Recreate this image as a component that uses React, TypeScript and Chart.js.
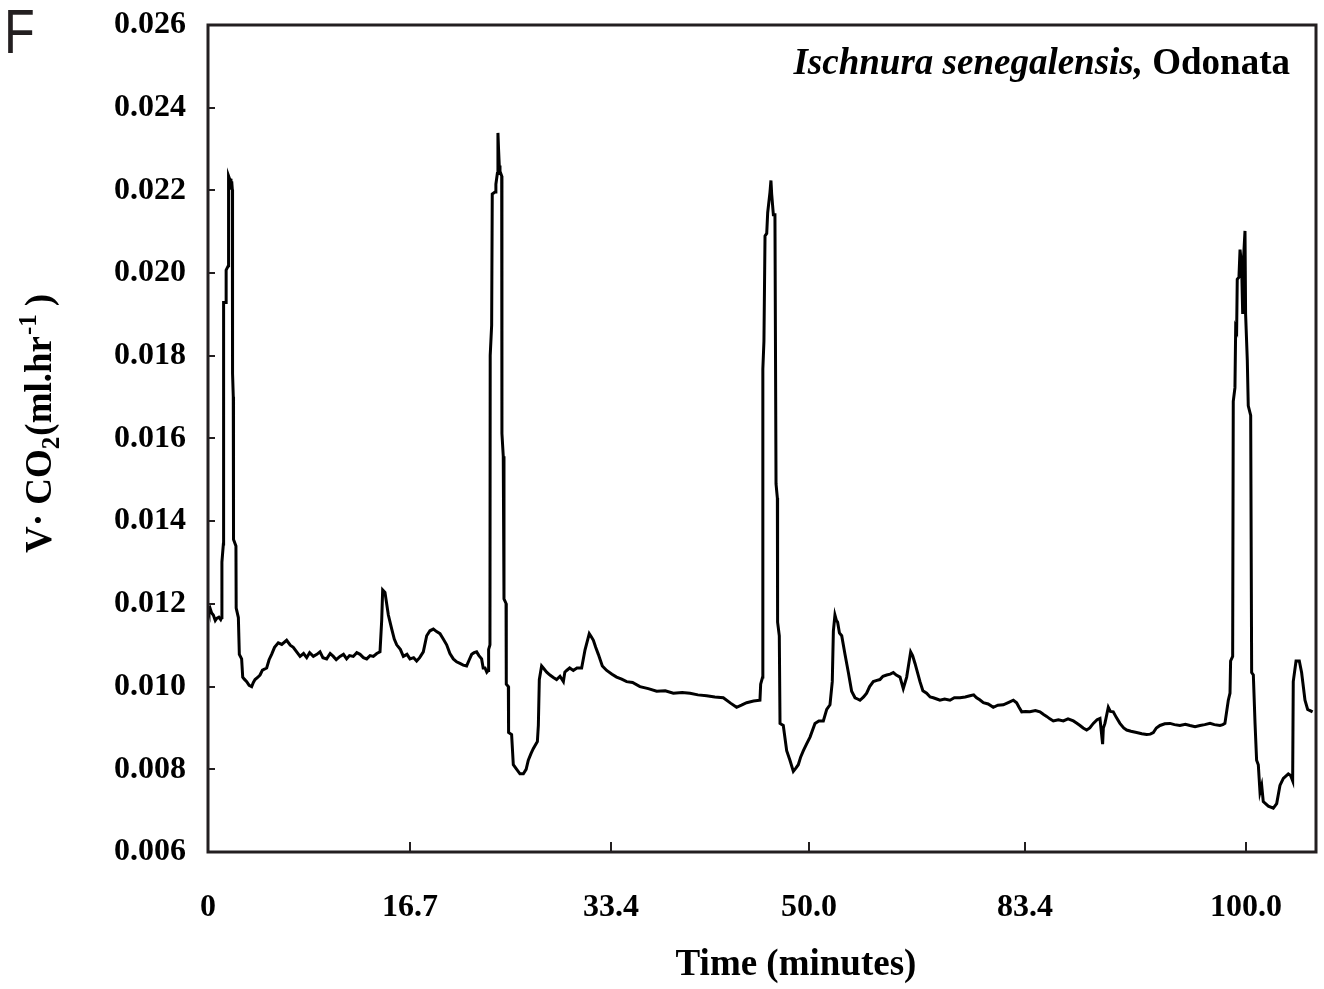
import React, { useEffect, useRef } from "react";
import { Chart, registerables } from "chart.js";

Chart.register(...registerables);

// Time (plot units, linear along the axis) and VCO2 (ml/hr)
const timeMin: number[] = [
  0, 0.08, 0.165, 0.3, 0.44, 0.6, 0.72, 0.9, 1.05, 1.13,
  1.15, 1.27, 1.29, 1.49, 1.5, 1.68, 1.7, 1.76, 1.8, 1.85, 1.9, 1.96, 2.01, 2.03, 2.09, 2.11, 2.31, 2.33, 2.51, 2.59, 2.78, 2.87,
  3.0, 3.2, 3.4, 3.61, 3.75, 3.89, 4.1, 4.3, 4.5, 4.85, 5.05, 5.26, 5.5, 5.81, 6.1, 6.5, 6.8, 7.05, 7.3, 7.61, 7.9, 8.16, 8.4, 8.71,
  9.0, 9.26, 9.5, 9.81, 10.1, 10.36, 10.6, 10.91, 11.2, 11.46, 11.7, 12.01, 12.3, 12.57, 12.85, 13.12, 13.4, 13.67, 13.95, 14.22,
  14.36, 14.44, 14.63, 14.91, 15.18, 15.4, 15.6, 15.9, 16.15, 16.45, 16.7, 17.0, 17.25, 17.5, 17.8, 18.08, 18.35, 18.63, 18.9,
  19.18, 19.45, 19.73, 20.0, 20.28, 20.55, 20.83, 21.1, 21.38, 21.6, 21.8, 22.0, 22.21, 22.4, 22.62, 22.75, 22.9, 23.05, 23.17,
  23.2, 23.31, 23.33, 23.45, 23.5, 23.73, 23.8, 23.92, 23.97, 24.02, 24.08, 24.14, 24.28, 24.3, 24.41, 24.47, 24.64, 24.66, 24.83,
  24.85, 25.1, 25.24, 25.52, 25.79, 26.07, 26.3, 26.48, 26.7, 26.89, 27.23, 27.31, 27.39,
  27.58, 27.72, 28.0, 28.27, 28.55, 28.82, 29.1, 29.38, 29.5, 29.65, 29.9, 30.2, 30.5, 30.89, 31.17, 31.52, 31.7, 31.86, 32.05,
  32.27, 32.6, 32.96, 33.4, 33.78, 34.2, 34.61, 35.1, 35.71, 36.4, 37.09, 37.8, 38.47, 39.2, 39.85, 40.5, 41.22, 41.9, 42.6, 43.2,
  43.7, 44.1, 44.53, 45.1, 45.63, 45.69, 45.85, 45.87, 45.96, 46.05, 46.19, 46.27, 46.46, 46.54, 46.6, 46.74, 46.87, 46.96, 47.07,
  47.09, 47.23, 47.29, 47.56, 47.84, 48.11, 48.39, 48.6, 48.8, 49.0, 49.22, 49.5, 49.77, 50.18, 50.5, 50.87, 51.15, 51.42, 51.61,
  51.7, 51.83, 51.95, 52.05, 52.2, 52.39, 52.66, 52.94, 53.21, 53.49, 53.7, 53.9, 54.2, 54.45, 54.7, 55.0, 55.3, 55.55, 55.8,
  56.11, 56.4, 56.66, 56.9, 57.21, 57.48, 57.76, 58.09, 58.25, 58.45, 58.86, 59.1, 59.41, 59.7, 59.96, 60.25, 60.51,
  60.9, 61.34, 61.7, 62.17, 62.6, 62.99, 63.3, 63.54, 63.8, 64.1, 64.5, 64.92, 65.3, 65.75, 66.2, 66.58, 66.85, 67.05, 67.27,
  67.6, 67.95, 68.4, 68.78, 69.05, 69.33, 69.6, 69.88, 70.3, 70.71, 71.1, 71.54, 71.8, 72.09, 72.35, 72.64, 72.9, 73.19, 73.5,
  73.74, 73.96, 74.02, 74.15, 74.43, 74.6, 74.84, 75.1, 75.39, 75.7, 75.95, 76.3, 76.77, 77.2, 77.6, 77.9, 78.15, 78.4, 78.7,
  79.1, 79.53, 79.9, 80.35, 80.8, 81.18, 81.6, 82.01, 82.4, 82.84, 83.2, 83.66, 83.9, 84.07, 84.35, 84.49, 84.54, 84.71, 84.76,
  84.9, 84.96, 85.04, 85.09, 85.23, 85.32, 85.45, 85.54, 85.59, 85.73, 85.78, 85.92, 86.0, 86.2, 86.28, 86.42, 86.56, 86.69,
  86.83, 86.97, 87.11, 87.24, 87.66, 88.07, 88.35, 88.62, 88.9, 89.31, 89.5, 89.67, 89.72, 89.95, 90.22, 90.41, 90.69, 90.91, 91.32,
];

const vco2: number[] = [
  0.01195, 0.01185, 0.0119, 0.01178, 0.01173, 0.0116, 0.01165, 0.01168, 0.01162, 0.01167,
  0.01301, 0.01345, 0.01929, 0.01929, 0.02007, 0.02018, 0.02235, 0.0223, 0.02205, 0.02228, 0.02202, 0.02222, 0.02202, 0.01757, 0.01701, 0.01356, 0.0134, 0.0119, 0.01167, 0.01078, 0.01067, 0.01023,
  0.01018, 0.01012, 0.01003, 0.01, 0.0101, 0.01017, 0.01022, 0.01028, 0.0104, 0.01045, 0.01065, 0.01078, 0.01095, 0.01106, 0.01102, 0.01112, 0.011, 0.01095, 0.01085, 0.01073, 0.0108, 0.0107, 0.01082, 0.01073,
  0.01078, 0.01084, 0.0107, 0.01067, 0.0108, 0.01073, 0.01065, 0.01073, 0.01078, 0.01067, 0.01075, 0.01073, 0.01082, 0.01078, 0.0107, 0.01067, 0.01075, 0.01073, 0.0108, 0.01084,
  0.0116, 0.01234, 0.01228, 0.01173, 0.0114, 0.01115, 0.01101, 0.0109, 0.01073, 0.01078, 0.01067, 0.0107, 0.01062, 0.0107, 0.01084, 0.01123, 0.01135, 0.01139, 0.01133,
  0.01128, 0.01115, 0.01101, 0.0108, 0.01067, 0.0106, 0.01056, 0.01052, 0.0105, 0.01065, 0.01078, 0.01082, 0.01084, 0.01075, 0.01067, 0.01045, 0.01045, 0.01035, 0.01039,
  0.0109, 0.01101, 0.01801, 0.01874, 0.02191, 0.02196, 0.02215, 0.02241, 0.02339, 0.023, 0.0226, 0.02246, 0.02235, 0.01612, 0.01557, 0.01212, 0.01201, 0.01006, 0.01,
  0.00889, 0.00884, 0.00811, 0.008, 0.00789, 0.00789, 0.008, 0.00822, 0.00838, 0.0085, 0.00867, 0.00906, 0.01017,
  0.0105, 0.01045, 0.01035, 0.01028, 0.01022, 0.01017, 0.01025, 0.01012, 0.01035, 0.01039, 0.01045, 0.01039, 0.01045, 0.01045, 0.01089, 0.01128, 0.0112, 0.01112, 0.01095,
  0.01078, 0.0105, 0.01039, 0.0103, 0.01023, 0.01018, 0.01012, 0.0101, 0.01, 0.00995, 0.00989, 0.0099, 0.00984, 0.00986, 0.00984, 0.0098, 0.00978, 0.00975, 0.00973, 0.0096,
  0.0095, 0.00955, 0.00961, 0.00965, 0.00967, 0.01006, 0.01023, 0.01768, 0.01835, 0.0209, 0.02096, 0.02146, 0.02196, 0.02224, 0.02191, 0.02141, 0.02141, 0.0149, 0.01456,
  0.01156, 0.01123, 0.00911, 0.00906, 0.00845, 0.00822, 0.00795, 0.00803, 0.00811, 0.0083, 0.00845, 0.00862, 0.00878, 0.00911, 0.00917, 0.00917, 0.00945, 0.00956, 0.01012,
  0.01134, 0.01173, 0.0116, 0.01156, 0.0113, 0.01123, 0.01078, 0.01034, 0.00989, 0.00973, 0.0097, 0.00967, 0.00975, 0.00984, 0.01, 0.01012, 0.01015, 0.01017, 0.01025,
  0.01028, 0.0103, 0.01034, 0.01028, 0.01023, 0.00995, 0.01023, 0.01084, 0.01075, 0.01056, 0.01012, 0.0099, 0.00984, 0.00975, 0.00973, 0.0097, 0.00967,
  0.0097, 0.00967, 0.00973, 0.00973, 0.00975, 0.00978, 0.0098, 0.00973, 0.00968, 0.00961, 0.00958, 0.0095, 0.00955, 0.00956, 0.00962, 0.00967, 0.00961, 0.0095, 0.00939,
  0.0094, 0.00939, 0.00942, 0.00939, 0.00933, 0.00928, 0.00922, 0.00917, 0.0092, 0.00917, 0.00922, 0.00917, 0.00912, 0.00906, 0.009, 0.00895, 0.009, 0.00911, 0.0092,
  0.00923, 0.00861, 0.009, 0.00911, 0.0095, 0.0094, 0.00939, 0.00925, 0.00911, 0.009, 0.00895, 0.00892, 0.00889, 0.00886, 0.00884, 0.00885, 0.00889, 0.009, 0.00906,
  0.0091, 0.00911, 0.00908, 0.00906, 0.00909, 0.00906, 0.00903, 0.00906, 0.00908, 0.00911, 0.00908, 0.00906, 0.00908, 0.00911, 0.00967, 0.00984, 0.01062, 0.01073, 0.0169,
  0.01723, 0.01868, 0.01862, 0.01985, 0.0199, 0.02057, 0.02018, 0.01901, 0.02024, 0.02102, 0.01901, 0.0179, 0.01679, 0.01656, 0.01034, 0.01028, 0.00911, 0.00822,
  0.00811, 0.00745, 0.00761, 0.00722, 0.00711, 0.00706, 0.00717, 0.00761, 0.00778, 0.00789, 0.00785, 0.00772, 0.01012, 0.01062, 0.01062, 0.01034, 0.00967, 0.00945, 0.00939,
];

const xTickPos: number[] = [0, 16.7, 33.32, 49.69, 67.54, 85.81];
const xTickLabels: string[] = ["0", "16.7", "33.4", "50.0", "83.4", "100.0"];
const yTickValues: number[] = [0.006, 0.008, 0.01, 0.012, 0.014, 0.016, 0.018, 0.02, 0.022, 0.024, 0.026];
const X_MAX = 91.6;

const SERIF = "'Liberation Serif', 'Times New Roman', serif";
const INK = "#231f20";

const decorPlugin = {
  id: "decor",
  afterDatasetsDraw(chart: any) {
    const { ctx, chartArea } = chart;
    const xs = chart.scales.x;
    const ys = chart.scales.y;
    ctx.save();
    ctx.strokeStyle = INK;
    // inward ticks
    ctx.lineWidth = 2;
    ctx.beginPath();
    yTickValues.forEach((v) => {
      const py = Math.round(ys.getPixelForValue(v));
      if (py <= chartArea.top + 2 || py >= chartArea.bottom - 2) return;
      ctx.moveTo(chartArea.left, py);
      ctx.lineTo(chartArea.left + 7, py);
    });
    xTickPos.forEach((v) => {
      const px = Math.round(xs.getPixelForValue(v));
      if (px <= chartArea.left + 2) return;
      ctx.moveTo(px, chartArea.bottom);
      ctx.lineTo(px, chartArea.bottom - 10);
    });
    ctx.stroke();
    // frame
    ctx.lineWidth = 3;
    ctx.strokeRect(chartArea.left, chartArea.top, chartArea.right - chartArea.left, chartArea.bottom - chartArea.top);
    ctx.restore();
  },
  afterDraw(chart: any) {
    const { ctx } = chart;
    ctx.save();
    ctx.fillStyle = "#000";

    // panel letter
    ctx.save();
    ctx.font = "400 63px 'Liberation Sans', Arial, sans-serif";
    ctx.textBaseline = "alphabetic";
    ctx.textAlign = "left";
    ctx.fillStyle = INK;
    ctx.translate(4, 53);
    ctx.scale(0.8, 1);
    ctx.fillText("F", 0, 0);
    ctx.restore();

    // species annotation (right aligned)
    const f1 = `italic 700 37px ${SERIF}`;
    const f2 = `700 37px ${SERIF}`;
    const t1 = "Ischnura senegalensis,";
    const t2 = " Odonata";
    ctx.textBaseline = "alphabetic";
    ctx.textAlign = "left";
    ctx.font = f2;
    const w2 = ctx.measureText(t2).width;
    ctx.font = f1;
    const w1 = ctx.measureText(t1).width;
    const right = 1290;
    ctx.fillText(t1, right - w2 - w1, 74);
    ctx.font = f2;
    ctx.fillText(t2, right - w2, 74);

    // x title
    ctx.font = `700 37px ${SERIF}`;
    ctx.textAlign = "center";
    ctx.fillText("Time (minutes)", 796, 975);

    // y title (rotated, with sub/superscripts)
    ctx.save();
    ctx.translate(51, 553);
    ctx.rotate(-Math.PI / 2);
    ctx.textAlign = "left";
    const big = `700 37px ${SERIF}`;
    const small = `700 25px ${SERIF}`;
    const parts: [string, string, number, number][] = [
      ["V", big, 0, 0],
      ["\u00B7", big, 0, 0],
      [" CO", big, 0, 0],
      ["2", small, 8, 1],
      ["(ml.hr", big, 0, 1],
      ["-1", small, -15, 8],
      [")", big, 0, 0],
    ];
    let x = 0;
    parts.forEach(([txt, font, dy, gap]) => {
      ctx.font = font;
      ctx.fillText(txt, x, dy);
      x += ctx.measureText(txt).width + gap;
    });
    ctx.restore();

    ctx.restore();
  },
};

export default function App() {
  const ref = useRef<HTMLCanvasElement | null>(null);
  useEffect(() => {
    document.body.style.margin = "0";
    const canvas = ref.current;
    if (!canvas) return;
    const data = timeMin.map((t, i) => ({ x: t, y: vco2[i] }));
    const tickFont = { family: SERIF, size: 32, weight: "bold" as const };
    const chart = new Chart(canvas, {
      type: "line",
      data: {
        datasets: [
          {
            data,
            borderColor: "#000",
            borderWidth: 3,
            pointRadius: 0,
            tension: 0,
            fill: false,
          },
        ],
      },
      options: {
        animation: false,
        responsive: false,
        devicePixelRatio: 1,
        layout: { padding: { top: 25, right: 8, left: 0, bottom: 0 } },
        plugins: { legend: { display: false }, tooltip: { enabled: false }, title: { display: false } },
        scales: {
          x: {
            type: "linear",
            min: 0,
            max: X_MAX,
            grid: { display: false },
            border: { display: false },
            afterBuildTicks: (s: any) => {
              s.ticks = xTickPos.map((v) => ({ value: v }));
            },
            afterFit: (s: any) => {
              s.height = 137;
              s.paddingLeft = 0;
              s.paddingRight = 0;
            },
            ticks: {
              autoSkip: false,
              maxRotation: 0,
              padding: 29,
              color: "#000",
              font: tickFont,
              callback: (_v: any, i: number) => xTickLabels[i],
            },
          },
          y: {
            type: "linear",
            min: 0.006,
            max: 0.026,
            grid: { display: false },
            border: { display: false },
            afterBuildTicks: (s: any) => {
              s.ticks = yTickValues.map((v) => ({ value: v }));
            },
            afterFit: (s: any) => {
              s.width = 208;
              s.paddingTop = 0;
              s.paddingBottom = 0;
            },
            ticks: {
              padding: 14,
              color: "#000",
              font: tickFont,
              callback: (v: any) => Number(v).toFixed(3),
            },
          },
        },
      },
      plugins: [decorPlugin],
    });
    return () => chart.destroy();
  }, []);
  return (
    <div style={{ position: "absolute", left: 0, top: 0, width: 1324, height: 989, background: "#fff" }}>
      <canvas ref={ref} width={1324} height={989} style={{ width: 1324, height: 989, display: "block" }} />
    </div>
  );
}
